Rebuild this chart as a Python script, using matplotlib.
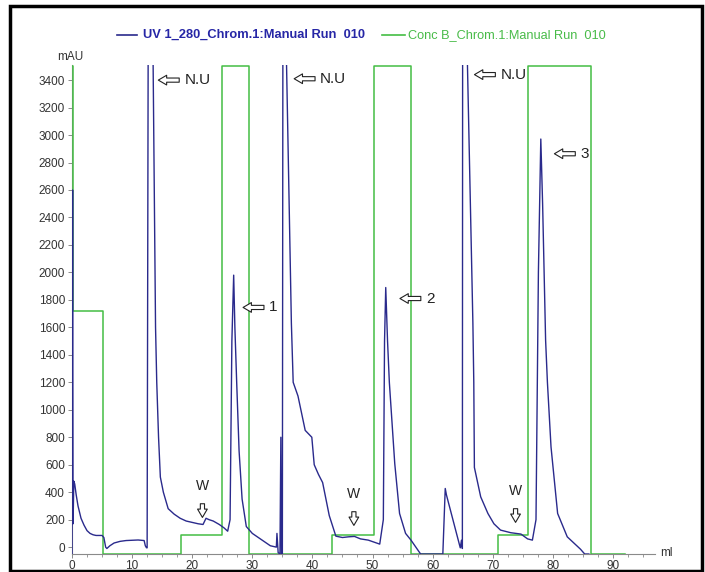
import matplotlib.pyplot as plt
from matplotlib.patches import Rectangle
from matplotlib.ticker import MultipleLocator

plt.rcParams['font.family'] = ['Liberation Sans', 'DejaVu Sans']

# UV 280 trace (ml, mAU); N.U peaks go off scale
uv_ml = [0.0, 0.1, 0.18, 0.3, 0.45, 0.7, 1.0, 1.5, 2.0, 2.5, 3.0, 3.5, 4.0, 5.0, 5.3, 5.6,
         5.8, 6.3, 7.0, 8.0, 9.0, 10.0, 11.0, 12.0, 12.2, 12.4, 12.5, 12.7, 13.3, 13.5,
         13.9, 14.1, 14.4, 14.7, 15.2, 16.0, 17.0, 18.0, 19.0, 20.0, 21.0, 21.8, 22.3,
         22.8, 23.5, 24.5, 25.3, 25.9, 26.3, 26.6, 26.9, 27.1, 27.4, 27.8, 28.3, 29.0,
         30.0, 31.0, 32.0, 33.0, 34.0, 34.1, 34.3, 34.6, 34.75, 34.85, 35.0, 35.1, 35.5,
         35.7, 36.5, 36.8, 37.6, 38.8, 39.9, 40.3, 41.0, 41.7, 42.8, 43.9, 45.0, 46.0,
         47.0, 48.0, 49.3, 51.2, 51.8, 52.0, 52.2, 52.5, 52.8, 53.7, 54.5, 55.5, 56.4,
         57.2, 58.0, 61.7, 62.1, 62.3, 64.6, 64.8, 64.95, 65.0, 65.6, 65.8, 66.7, 66.85,
         66.95, 68.0, 69.2, 70.2, 71.3, 73.0, 74.7, 75.8, 76.6, 77.2, 77.6, 78.0, 78.3,
         78.8, 79.1, 79.7, 80.8, 82.4, 84.6, 85.3, 86.0]
uv_mau = [-50, 2600, 170, 480, 460, 380, 300, 210, 160, 120, 100, 90, 85, 85, 70, 0,
          -10, 10, 30, 42, 48, 50, 52, 48, 10, -5, -5, 4200, 4200, 3500,
          1600, 1200, 800, 510, 400, 280, 240, 210, 190, 180, 170, 165, 210,
          200, 190, 165, 140, 116, 200, 1500, 1980, 1600, 1200, 700, 350, 150,
          100, 70, 40, 10, 0, 100, -40, -50, 800, -50, -50, 4200, 4200,
          3500, 1630, 1200, 1100, 850, 800, 600, 530, 470, 230, 80, 70, 75,
          78, 60, 51, 22, 200, 1500, 1890, 1500, 1200, 608, 245, 100, 51,
          0, -50, -50, 427, 380, -5, 50, -10, 4200, 4200, 3500, 1630, 1200,
          580, 366, 245, 170, 124, 105, 95, 60, 51, 200, 2000, 2971, 2500,
          1505, 1200, 729, 245, 75, -15, -50, -50]

# Conc B step trace, drawn on the same scale
conc_ml = [0, 0.1, 5.2, 18.2, 25.0, 29.4, 43.3, 50.2, 56.4, 70.8, 75.8, 86.4, 92]
conc_val = [3500, 1720, -50, 87, 3500, -50, 87, 3500, -50, 87, 3500, -50, -50]

# annotations: (tip ml, tip mAU, label)
side_marks = [(13.9, 3400, 'N.U'), (36.5, 3410, 'N.U'), (66.5, 3440, 'N.U'),
              (28.0, 1745, '1'), (54.1, 1810, '2'), (79.8, 2864, '3')]
wash_marks = [(21.7, 196), (46.9, 138), (73.8, 160)]

blue = '#2a2a8c'
green = '#44bd44'
gray = '#8a8a8a'

fig = plt.figure(figsize=(7.05, 5.72), dpi=100)
ax = fig.add_axes([72 / 705, 1 - 554 / 572, (655 - 72) / 705, (554 - 65) / 572])

ax.plot(conc_ml, conc_val, color=green, lw=1.1, drawstyle='steps-post', zorder=3)
ax.plot(uv_ml, uv_mau, color=blue, lw=1.0, zorder=4)

ax.set_xlim(0, 97)
ax.set_ylim(-50, 3510)
for s in ['top', 'right']:
    ax.spines[s].set_visible(False)
for s in ['left', 'bottom']:
    ax.spines[s].set_color(gray)
    ax.spines[s].set_linewidth(0.8)
ax.set_xticks(range(0, 100, 10))
ax.set_yticks(range(0, 3401, 200))
ax.xaxis.set_minor_locator(MultipleLocator(2.5))
ax.tick_params(axis='both', colors=gray, labelcolor='#333333', labelsize=8.5,
               length=3, width=0.7, pad=2)
ax.tick_params(axis='x', pad=1)
ax.tick_params(axis='x', which='minor', length=2, colors=gray)

# arrows and labels
arr = dict(arrowstyle='simple,head_length=0.6,head_width=0.7,tail_width=0.3',
           fc='white', ec='#222222', lw=0.8)
for x, y, lab in side_marks:
    ax.annotate('', xy=(x, y), xytext=(x + 4.4, y), arrowprops=arr)
    ax.text(x + 4.8, y, lab, fontsize=11, va='center', ha='left', color='#222222')
for x, y in wash_marks:
    ax.annotate('', xy=(x, y), xytext=(x, y + 140), arrowprops=arr)
    ax.text(x, y + 250, 'W', fontsize=10, ha='center', va='center', color='#222222')

# legend-like header
fig.add_artist(plt.Line2D([117 / 705, 137 / 705], [1 - 35 / 572] * 2, color=blue, lw=1.2))
fig.text(143 / 705, 1 - 35 / 572, 'UV 1_280_Chrom.1:Manual Run  010', color='#2626a6',
         fontsize=9.3, fontweight='bold', va='center')
fig.add_artist(plt.Line2D([382 / 705, 405 / 705], [1 - 35 / 572] * 2, color=green, lw=1.2))
fig.text(408 / 705, 1 - 35 / 572, 'Conc B_Chrom.1:Manual Run  010', color='#48bb48',
         fontsize=9.2, va='center')

fig.text(70 / 705, 1 - 57 / 572, 'mAU', fontsize=8.5, color='#333333', ha='center', va='center')
fig.text(660 / 705, 1 - 553 / 572, 'ml', fontsize=8.5, color='#333333', ha='left', va='center')

# outer frame
fig.add_artist(Rectangle((10 / 705, 0.002), 692 / 705, 1 - 7 / 572, transform=fig.transFigure,
                         fill=False, ec='black', lw=2.5))

fig.savefig('out.png', dpi=100)
